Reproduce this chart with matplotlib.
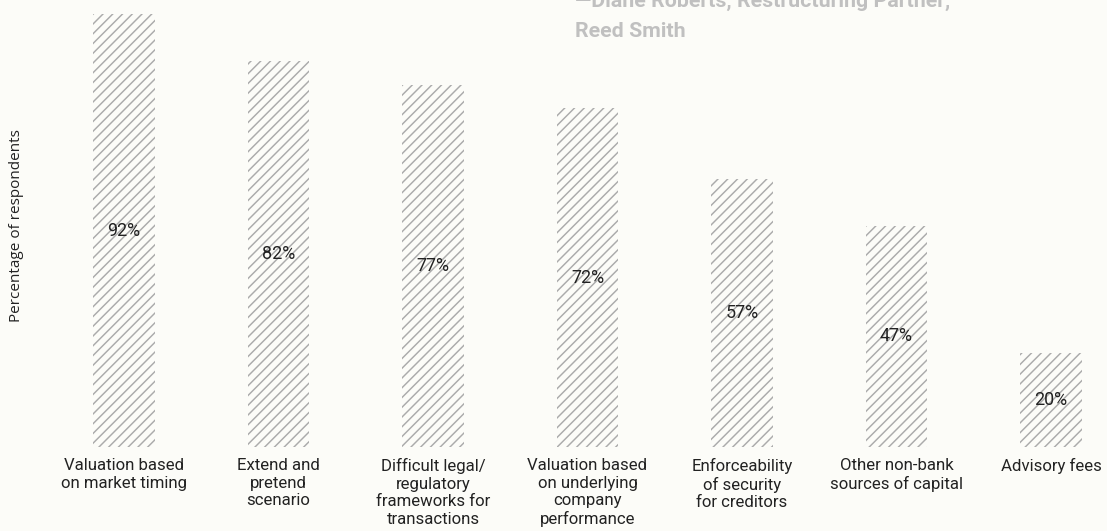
import matplotlib
matplotlib.use('Agg')
import matplotlib.pyplot as plt
import numpy as np

categories = ['Valuation based\non market timing',
              'Extend and\npretend\nscenario',
              'Difficult legal/\nregulatory\nframeworks for\ntransactions',
              'Valuation based\non underlying\ncompany\nperformance',
              'Enforceability\nof security\nfor creditors',
              'Other non-bank\nsources of capital',
              'Advisory fees']
values = [92, 82, 77, 72, 57, 47, 20]
quote_lines = ['\u2014Diane Roberts, Restructuring Partner,', 'Reed Smith']

DPI = 117
W, H = 1107, 531
bg = '#fcfcf8'
hatch_col = '#ababab'

plt.rcParams['hatch.linewidth'] = 0.9
plt.rcParams['hatch.color'] = hatch_col
plt.rcParams['font.family'] = ['Roboto', 'DejaVu Sans']

fig = plt.figure(figsize=(W / DPI, H / DPI), dpi=DPI, facecolor=bg)

# axes spans whole width; bottom of bars at y=447 px
bottom_px = 84
ax = fig.add_axes([0, bottom_px / H, 1, 1 - bottom_px / H])
ax.set_facecolor(bg)

step = 154.5
x0 = 124
ax.set_xlim(-x0 / step, (W - x0) / step)
ax.set_ylim(0, (H - bottom_px) / 4.705)

x = np.arange(len(values))
bars = ax.bar(x, values, width=0.4, color='none', edgecolor=hatch_col,
              linewidth=0, hatch='////')

for xi, v in zip(x, values):
    ax.text(xi, v / 2, str(v) + '%', ha='center', va='center',
            fontsize=11, color='#222222')

ax.set_xticks(x)
ax.set_xticklabels(categories, fontsize=10.3, color='#222222', linespacing=1.2)
ax.tick_params(axis='x', length=0, pad=7)
ax.set_yticks([])
for s in ax.spines.values():
    s.set_visible(False)

fig.text(17 / W, 1 - 226 / H, 'Percentage of respondents', rotation=90,
         ha='center', va='center', fontsize=9.4, color='#222222',
         family=['Open Sans', 'DejaVu Sans'])

# clipped quote at top
fig.text(575 / W, 1 - 7 / H, quote_lines[0], ha='left', va='baseline',
         fontsize=13.2, fontweight='bold', color='#c0c0c0')
fig.text(575 / W, 1 - 37 / H, quote_lines[1], ha='left', va='baseline',
         fontsize=13.2, fontweight='bold', color='#c0c0c0')

fig.savefig('out.png', dpi=DPI, facecolor=bg)
